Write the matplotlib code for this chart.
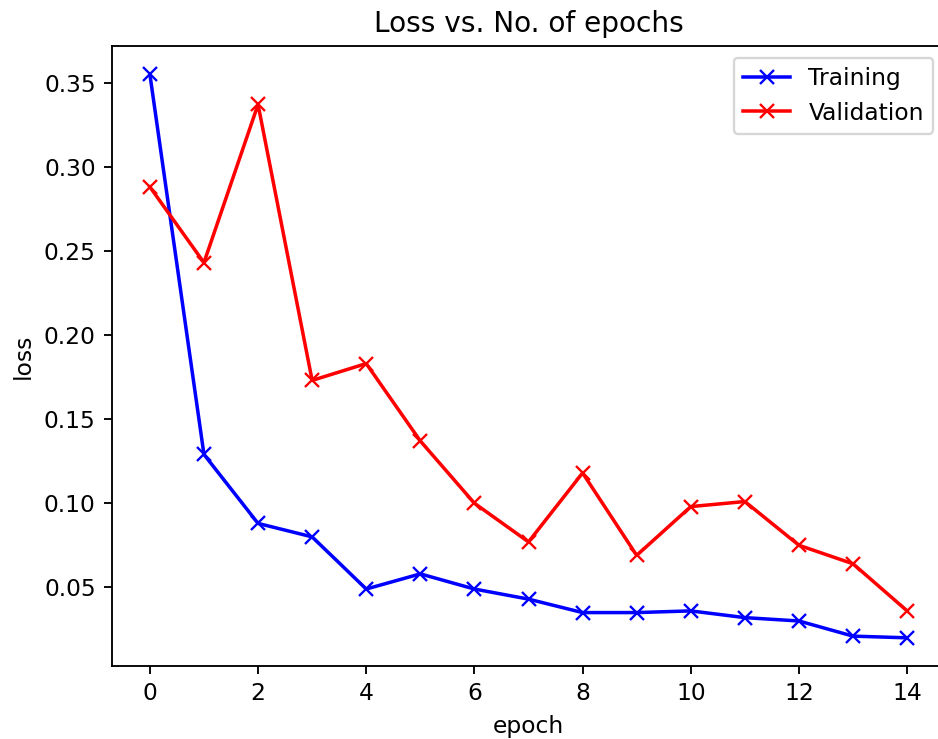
import matplotlib
matplotlib.use("Agg")
import matplotlib.pyplot as plt

epochs = list(range(15))
train_loss = [0.355, 0.129, 0.088, 0.080, 0.049, 0.058, 0.049, 0.043,
              0.035, 0.035, 0.036, 0.032, 0.030, 0.021, 0.020]
val_loss = [0.288, 0.243, 0.337, 0.173, 0.183, 0.137, 0.100, 0.077,
            0.118, 0.069, 0.098, 0.101, 0.075, 0.064, 0.036]

# the reference is a cropped screenshot of a default figure at ~168 dpi
dpi = 168
fig = plt.figure(figsize=(938 / dpi, 739 / dpi), dpi=dpi)
ax = fig.add_axes([112 / 938, 73 / 739, 833 / 938, 620 / 739])

ax.plot(epochs, train_loss, "-bx")
ax.plot(epochs, val_loss, "-rx")
ax.set_xlabel("epoch")
ax.set_ylabel("loss")
ax.legend(["Training", "Validation"])
ax.set_title("Loss vs. No. of epochs")

fig.savefig("out.png", dpi=dpi)
